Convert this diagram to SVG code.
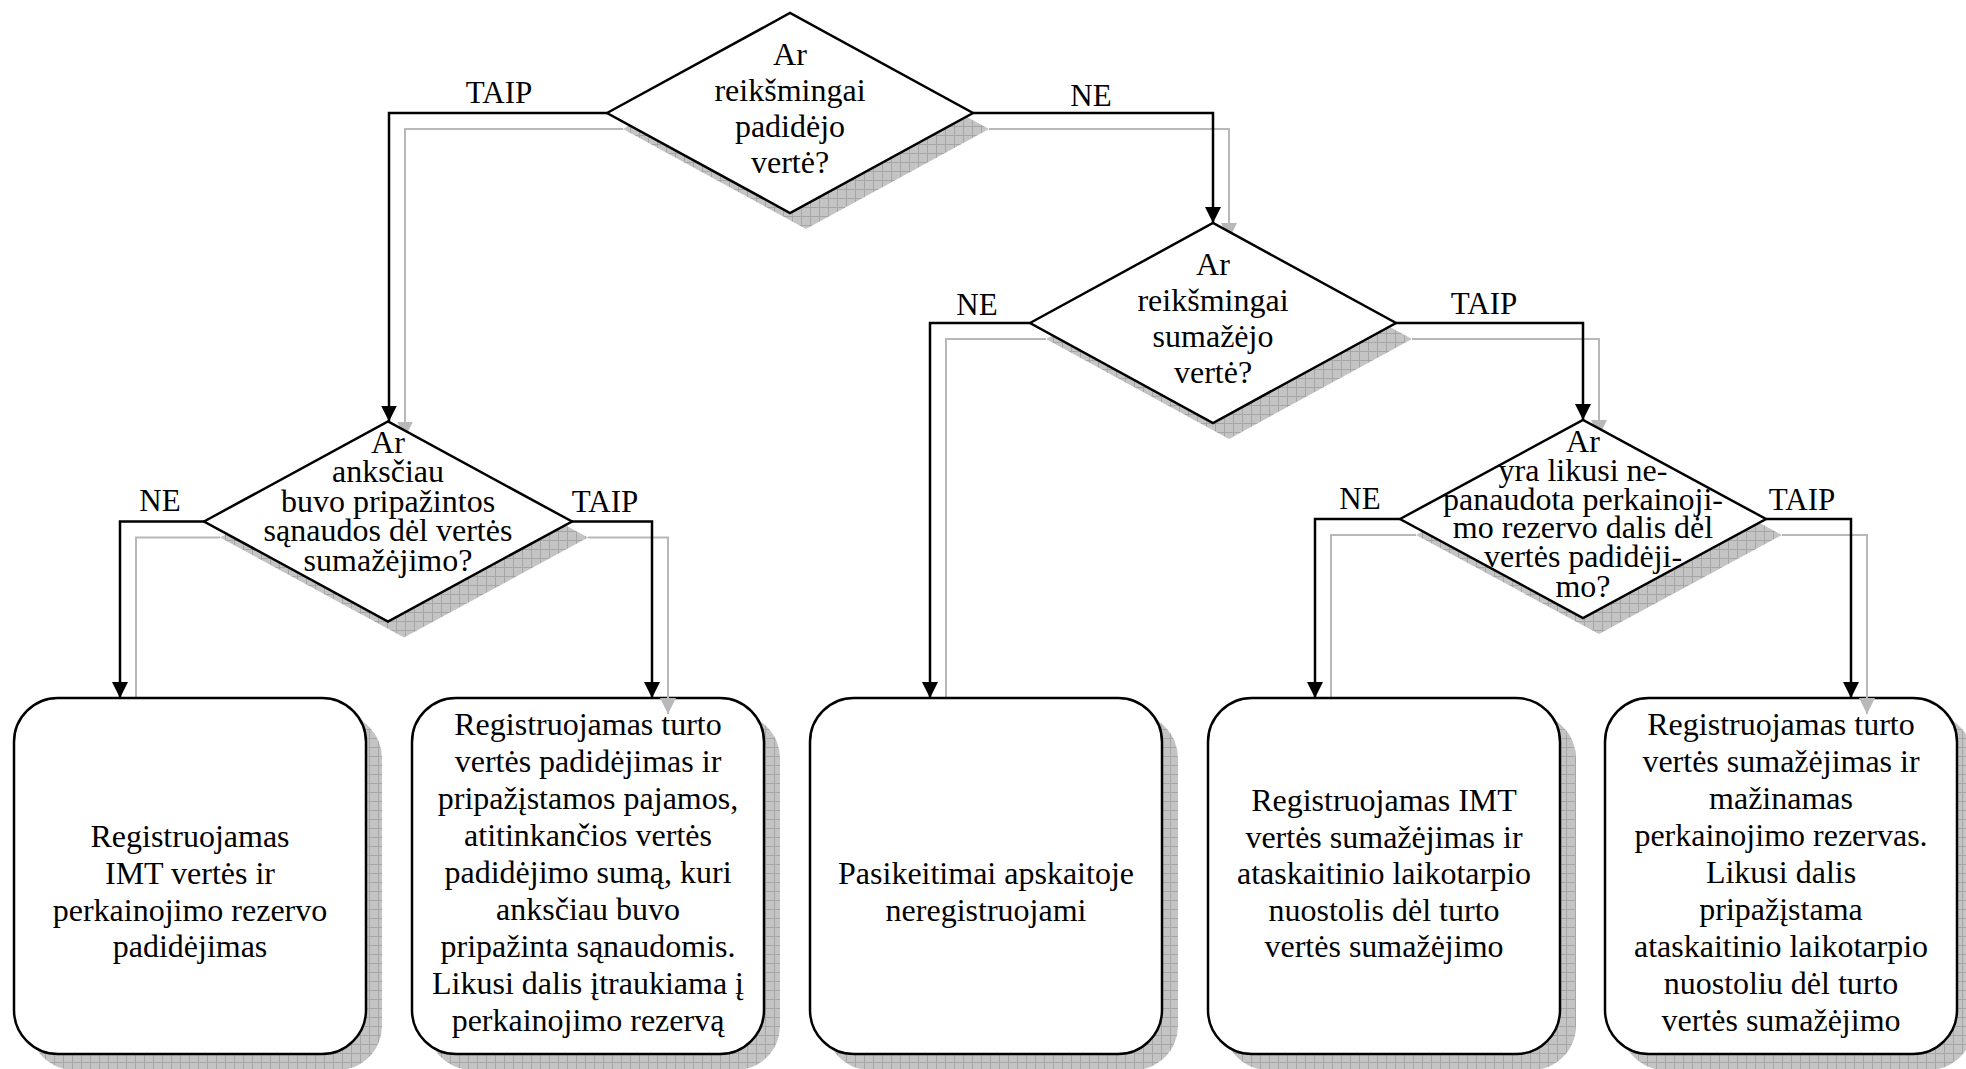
<svg xmlns="http://www.w3.org/2000/svg" width="1966" height="1069" viewBox="0 0 1966 1069">
  <style>
    text { font-family: "Liberation Serif", "Times New Roman", serif; fill: #000; }
    .t { font-size: 32px; text-anchor: middle; }
    .lbl { font-size: 31px; text-anchor: middle; }
    .node { fill: #fff; stroke: #000; stroke-width: 2.5; }
    .shadow { fill: url(#hatch); stroke: none; }
    .conn { fill: none; stroke: #000; stroke-width: 2.5; marker-end: url(#arrow); }
    .conn-sh { fill: none; stroke: #b8b8b8; stroke-width: 2; marker-end: url(#arrow-sh); }
  </style>
  <defs>
    <pattern id="hatch" width="9" height="9" patternUnits="userSpaceOnUse">
      <rect width="9" height="9" fill="#c4c4c4"/>
      <path d="M0,0.5 H9 M0.5,0 V9" stroke="#a6a6a6" stroke-width="1"/>
    </pattern>
    <marker id="arrow" markerUnits="userSpaceOnUse" markerWidth="16" markerHeight="16" viewBox="0 0 16 16" refX="16" refY="8" orient="auto">
      <path d="M0,0 L16,8 L0,16 z" fill="#000"/>
    </marker>
    <marker id="arrow-sh" markerUnits="userSpaceOnUse" markerWidth="16" markerHeight="16" viewBox="0 0 16 16" refX="16" refY="8" orient="auto">
      <path d="M0,0 L16,8 L0,16 z" fill="#b8b8b8"/>
    </marker>
  </defs>

  <rect width="1966" height="1069" fill="#fff"/>

  <!-- drop shadows of the nodes -->
  <g id="node-shadows">
    <polygon class="shadow" points="623,129 806,29 989,129 806,229"/>
    <polygon class="shadow" points="1046,339 1229,239 1412,339 1229,439"/>
    <polygon class="shadow" points="220,537.5 404,437.5 588,537.5 404,637.5"/>
    <polygon class="shadow" points="1416,535 1599,436 1782,535 1599,634"/>
    <rect class="shadow" x="30" y="714" width="352" height="356" rx="44"/>
    <rect class="shadow" x="428" y="714" width="352" height="356" rx="44"/>
    <rect class="shadow" x="826" y="714" width="352" height="356" rx="44"/>
    <rect class="shadow" x="1224" y="714" width="352" height="356" rx="44"/>
    <rect class="shadow" x="1621" y="714" width="352" height="356" rx="44"/>
  </g>

  <!-- shadows of the connectors -->
  <g id="connector-shadows">
    <path class="conn-sh" d="M623,129 H405 V437.5"/>
    <path class="conn-sh" d="M989,129 H1229 V239"/>
    <path class="conn-sh" d="M1046,339 H946 V714"/>
    <path class="conn-sh" d="M1412,339 H1599 V436"/>
    <path class="conn-sh" d="M220,537.5 H136 V714"/>
    <path class="conn-sh" d="M1416,535 H1331 V714"/>
  </g>

  <!-- decision: did the value increase significantly? -->
  <g id="q-padidejo">
    <polygon class="node" points="607,113 790,13 973,113 790,213"/>
    <text class="t"><tspan x="790" y="65">Ar</tspan><tspan x="790" y="101">reikšmingai</tspan><tspan x="790" y="137">padidėjo</tspan><tspan x="790" y="173">vertė?</tspan></text>
  </g>

  <!-- decision: did the value decrease significantly? -->
  <g id="q-sumazejo">
    <polygon class="node" points="1030,323 1213,223 1396,323 1213,423"/>
    <text class="t"><tspan x="1213" y="275">Ar</tspan><tspan x="1213" y="311">reikšmingai</tspan><tspan x="1213" y="347">sumažėjo</tspan><tspan x="1213" y="383">vertė?</tspan></text>
  </g>

  <!-- decision: were impairment expenses recognised before? -->
  <g id="q-sanaudos">
    <polygon class="node" points="204,521.5 388,421.5 572,521.5 388,621.5"/>
    <text class="t"><tspan x="388" y="453">Ar</tspan><tspan x="388" y="482">anksčiau</tspan><tspan x="388" y="512">buvo pripažintos</tspan><tspan x="388" y="541">sąnaudos dėl vertės</tspan><tspan x="388" y="571">sumažėjimo?</tspan></text>
  </g>

  <!-- decision: is there an unused revaluation reserve? -->
  <g id="q-rezervas">
    <polygon class="node" points="1400,519 1583,420 1766,519 1583,618"/>
    <text class="t"><tspan x="1583" y="452">Ar</tspan><tspan x="1583" y="481">yra likusi ne-</tspan><tspan x="1583" y="509.5">panaudota perkainoji-</tspan><tspan x="1583" y="538">mo rezervo dalis dėl</tspan><tspan x="1583" y="567">vertės padidėji-</tspan><tspan x="1583" y="596.5">mo?</tspan></text>
  </g>

  <!-- outcome boxes -->
  <g id="r-imt-padidejimas">
    <rect class="node" x="14" y="698" width="352" height="356" rx="44"/>
    <text class="t"><tspan x="190" y="847">Registruojamas</tspan><tspan x="190" y="884">IMT vertės ir</tspan><tspan x="190" y="920.5">perkainojimo rezervo</tspan><tspan x="190" y="957">padidėjimas</tspan></text>
  </g>

  <g id="r-pajamos">
    <rect class="node" x="412" y="698" width="352" height="356" rx="44"/>
    <text class="t"><tspan x="588" y="735">Registruojamas turto</tspan><tspan x="588" y="772">vertės padidėjimas ir</tspan><tspan x="588" y="809">pripažįstamos pajamos,</tspan><tspan x="588" y="846">atitinkančios vertės</tspan><tspan x="588" y="883">padidėjimo sumą, kuri</tspan><tspan x="588" y="920">anksčiau buvo</tspan><tspan x="588" y="957">pripažinta sąnaudomis.</tspan><tspan x="588" y="994">Likusi dalis įtraukiama į</tspan><tspan x="588" y="1031">perkainojimo rezervą</tspan></text>
  </g>

  <g id="r-nera-pokyciu">
    <rect class="node" x="810" y="698" width="352" height="356" rx="44"/>
    <text class="t"><tspan x="986" y="884">Pasikeitimai apskaitoje</tspan><tspan x="986" y="921">neregistruojami</tspan></text>
  </g>

  <g id="r-imt-sumazejimas">
    <rect class="node" x="1208" y="698" width="352" height="356" rx="44"/>
    <text class="t"><tspan x="1384" y="810.5">Registruojamas IMT</tspan><tspan x="1384" y="847.5">vertės sumažėjimas ir</tspan><tspan x="1384" y="884">ataskaitinio laikotarpio</tspan><tspan x="1384" y="920.5">nuostolis dėl turto</tspan><tspan x="1384" y="957">vertės sumažėjimo</tspan></text>
  </g>

  <g id="r-rezervo-mazinimas">
    <rect class="node" x="1605" y="698" width="352" height="356" rx="44"/>
    <text class="t"><tspan x="1781" y="735">Registruojamas turto</tspan><tspan x="1781" y="772">vertės sumažėjimas ir</tspan><tspan x="1781" y="809">mažinamas</tspan><tspan x="1781" y="846">perkainojimo rezervas.</tspan><tspan x="1781" y="883">Likusi dalis</tspan><tspan x="1781" y="920">pripažįstama</tspan><tspan x="1781" y="957">ataskaitinio laikotarpio</tspan><tspan x="1781" y="994">nuostoliu dėl turto</tspan><tspan x="1781" y="1031">vertės sumažėjimo</tspan></text>
  </g>

  <!-- connector shadows that fall over the box tops -->
  <g id="connector-shadows-top">
    <path class="conn-sh" d="M588,537.5 H668 V714"/>
    <path class="conn-sh" d="M1782,535 H1867 V714"/>
  </g>

  <!-- connectors with branch labels -->
  <g id="connectors">
    <path class="conn" d="M607,113 H389 V421.5"/>
    <path class="conn" d="M973,113 H1213 V223"/>
    <path class="conn" d="M1030,323 H930 V698"/>
    <path class="conn" d="M1396,323 H1583 V420"/>
    <path class="conn" d="M204,521.5 H120 V698"/>
    <path class="conn" d="M572,521.5 H652 V698"/>
    <path class="conn" d="M1400,519 H1315 V698"/>
    <path class="conn" d="M1766,519 H1851 V698"/>
    <text class="lbl" x="499" y="103">TAIP</text>
    <text class="lbl" x="1091" y="106">NE</text>
    <text class="lbl" x="977" y="315">NE</text>
    <text class="lbl" x="1484" y="314">TAIP</text>
    <text class="lbl" x="160" y="511">NE</text>
    <text class="lbl" x="605" y="512">TAIP</text>
    <text class="lbl" x="1360" y="509">NE</text>
    <text class="lbl" x="1802" y="510">TAIP</text>
  </g>
</svg>
